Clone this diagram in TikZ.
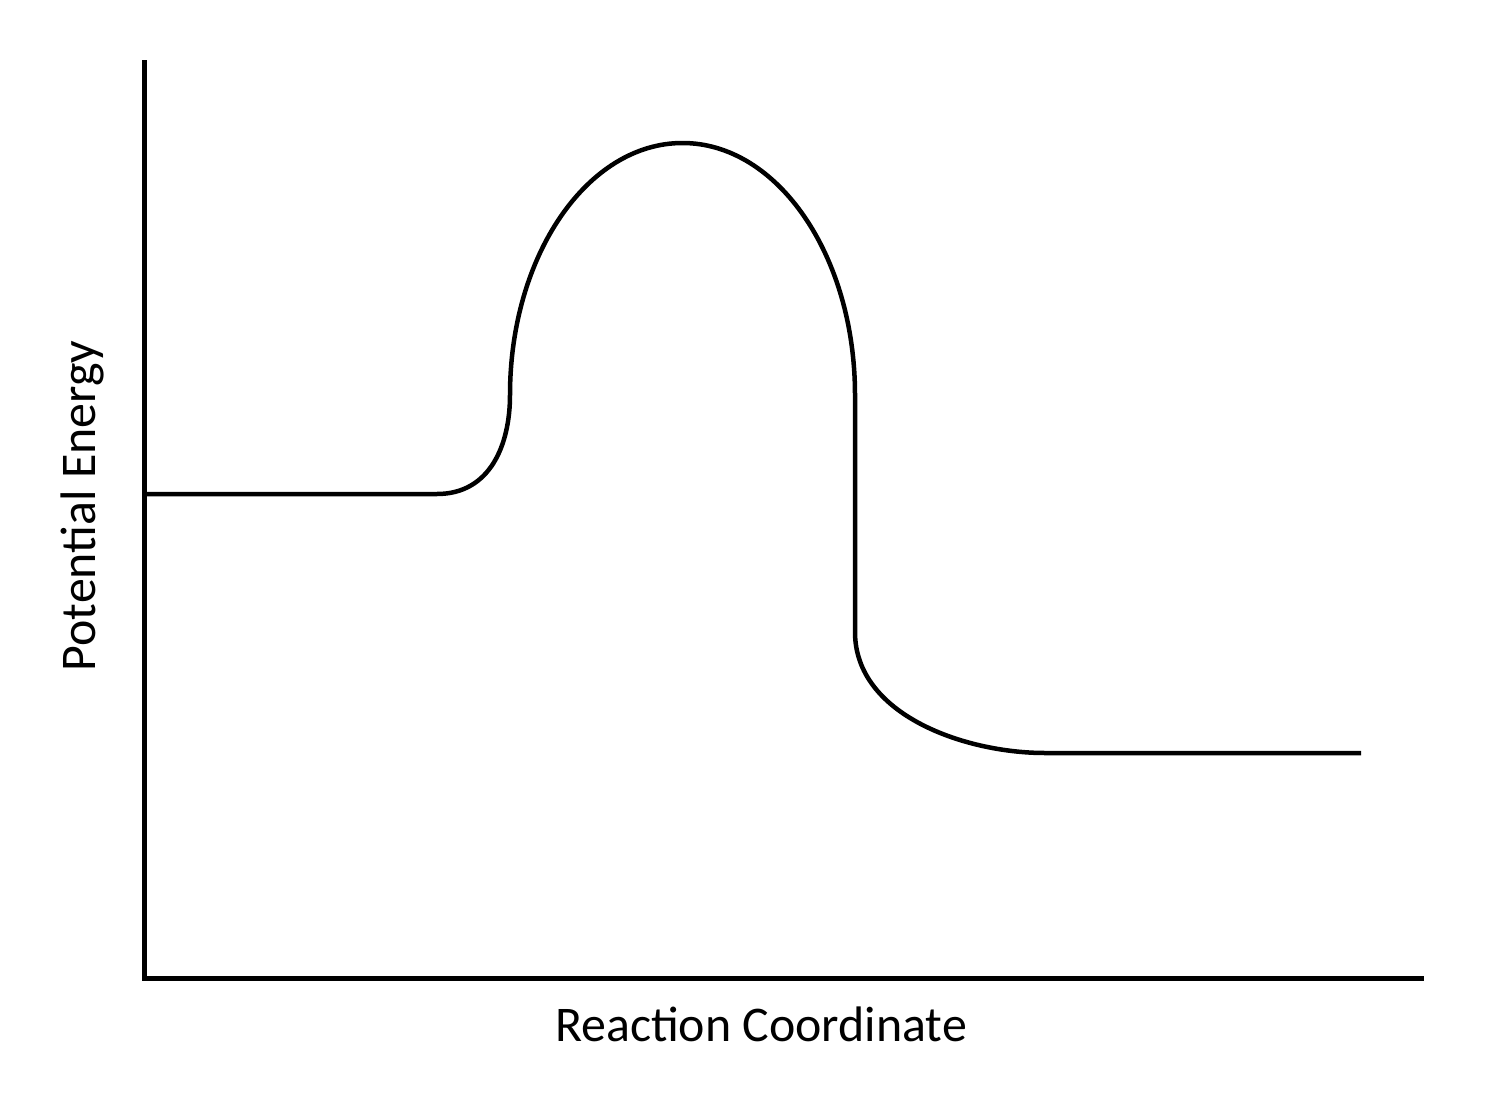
\documentclass[tikz,border=0pt]{standalone}
\usepackage{fontspec}
\setmainfont{Carlito}
\begin{document}
\begin{tikzpicture}[x=0.02cm,y=-0.02cm,
  axis/.style={line width=0.1cm},
  curve/.style={line width=0.09cm, line join=round},
  lbl/.style={font=\fontsize{28.4}{34}\selectfont, inner sep=0pt}]
\useasboundingbox (0,0) rectangle (1488,1095);
\coordinate (top) at (144,63);
\coordinate (origin) at (144,978);
\coordinate (right) at (1421,978);
\draw[axis, line cap=rect] (top) -- (origin) -- (right);
\coordinate (s) at (144,494);
\coordinate (a) at (437,494);
\coordinate (b) at (510,395);
\coordinate (c) at (855,395);
\coordinate (d) at (855,632);
\coordinate (e) at (1045,753);
\coordinate (f) at (1361,753);
\draw[curve] (s) -- (a) .. controls (490,494) and (510,445) .. (b)
  arc[start angle=180, end angle=360, x radius=172.5, y radius=252]
  -- (d) .. controls (855,715) and (965,753) .. (e) -- (f);
\node[lbl] (xl) at (761,1024) {Reaction Coordinate};
\node[lbl, rotate=90] (yl) at (82,506) {Potential Energy};
\end{tikzpicture}
\end{document}
